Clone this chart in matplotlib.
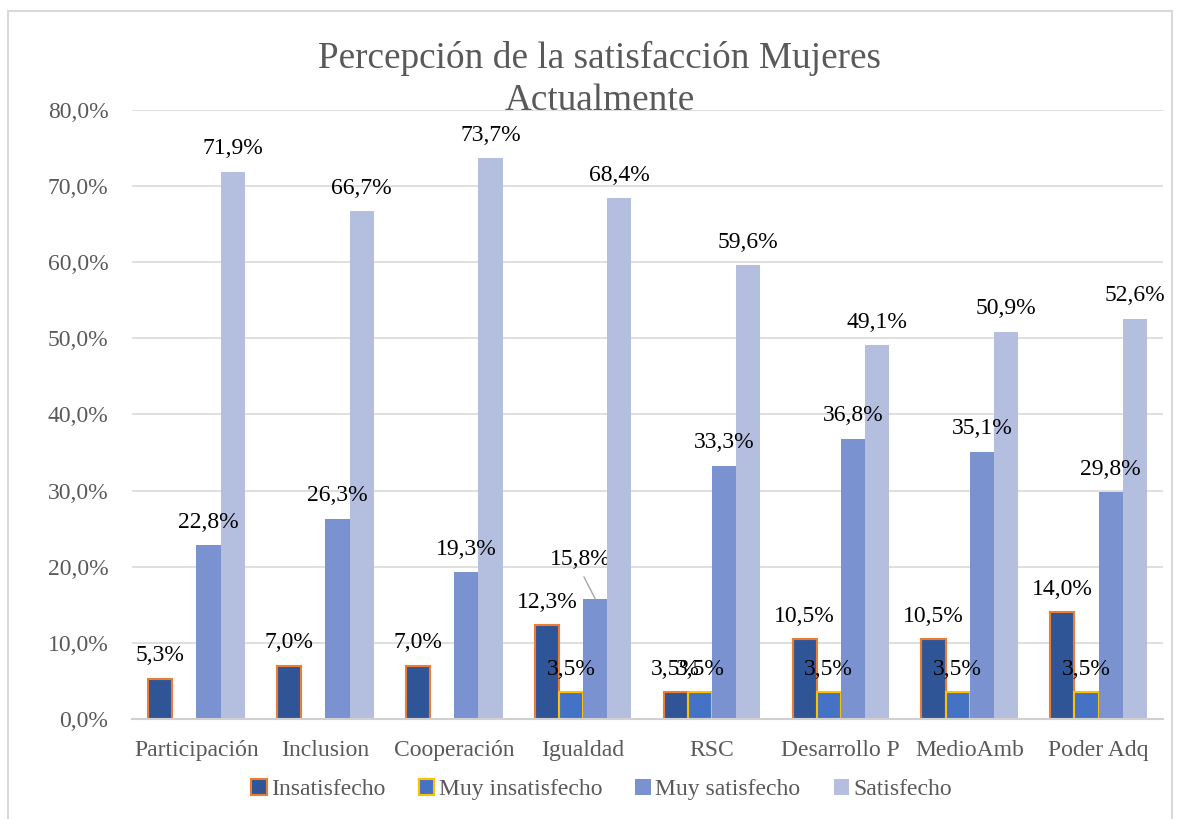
import matplotlib
matplotlib.use("Agg")
import matplotlib.pyplot as plt
from matplotlib.patches import Rectangle
import numpy as np

plt.rcParams["font.family"] = ["Liberation Serif", "DejaVu Serif"]

categories = ["Participación", "Inclusion", "Cooperación", "Igualdad",
              "RSC", "Desarrollo P", "MedioAmb", "Poder Adq"]
series_names = ["Insatisfecho", "Muy insatisfecho", "Muy satisfecho", "Satisfecho"]
insatisfecho = [5.3, 7.0, 7.0, 12.3, 3.5, 10.5, 10.5, 14.0]
muy_insatisfecho = [None, None, None, 3.5, 3.5, 3.5, 3.5, 3.5]
muy_satisfecho = [22.8, 26.3, 19.3, 15.8, 33.3, 36.8, 35.1, 29.8]
satisfecho = [71.9, 66.7, 73.7, 68.4, 59.6, 49.1, 50.9, 52.6]
y_ticks = [0, 10, 20, 30, 40, 50, 60, 70, 80]

fills = ["#2F5597", "#4472C4", "#7A93D0", "#B4BFE0"]
edges = ["#ED7D31", "#FFC000", "#7A93D0", "#B4BFE0"]
gray = "#595959"
fs = 17

fig = plt.figure(figsize=(11.8, 8.19), dpi=100)
ax = fig.add_axes([0.1119, 0.1221, 0.8737, 0.7436])

x = np.arange(len(categories))
width = 0.1875
all_series = [insatisfecho, muy_insatisfecho, muy_satisfecho, satisfecho]
for i, values in enumerate(all_series):
    heights = np.array([np.nan if v is None else v for v in values], dtype=float)
    pos = x + (i - 1.5) * width
    lw = 1.5 if i < 2 else 0
    ax.bar(pos, heights, width, color=fills[i], edgecolor=edges[i],
           linewidth=lw, label=series_names[i], zorder=3)
    for k, (p, h) in enumerate(zip(pos, heights)):
        if np.isnan(h):
            continue
        label = f"{h:.1f}%".replace(".", ",")
        if i == 2 and categories[k] == "Igualdad":
            # label moved up with a leader line, as in the original
            ax.annotate(label, xy=(p, h), xytext=(-10.5, 28),
                        textcoords="offset points",
                        ha="center", va="center", fontsize=fs, color="black",
                        arrowprops=dict(arrowstyle="-", color="#A6A6A6", lw=1,
                                        shrinkA=3, shrinkB=0,
                                        relpos=(0.5, 0.0)))
        else:
            ax.annotate(label, xy=(p, h), xytext=(0, 16.5),
                        textcoords="offset points", ha="center", va="center",
                        fontsize=fs, color="black", zorder=4)

ax.set_xlim(-0.5, len(categories) - 0.5)
ax.set_ylim(0, 80)
ax.set_yticks(y_ticks)
ax.set_yticklabels([f"{t:.1f}%".replace(".", ",") for t in y_ticks])
ax.set_xticks(x)
ax.set_xticklabels(categories)
ax.tick_params(axis="both", length=0, labelsize=fs, colors=gray)
ax.tick_params(axis="y", pad=17)
ax.tick_params(axis="x", pad=15)
ax.grid(axis="y", color="#D9D9D9", linewidth=1.2, zorder=0)
for side in ["top", "right", "left"]:
    ax.spines[side].set_visible(False)
ax.spines["bottom"].set_color("#D0D0D0")
ax.spines["bottom"].set_linewidth(1.5)
ax.spines["bottom"].set_zorder(5)

fig.text(0.508, 0.903, "Percepción de la satisfacción Mujeres\nActualmente",
         ha="center", va="center", fontsize=26.8, color=gray, linespacing=1.27)

fig.legend(loc="center", bbox_to_anchor=(0.51, 0.036), ncol=4, frameon=False,
           fontsize=fs, handlelength=0.65, handleheight=0.65, handletextpad=0.2,
           columnspacing=1.4, labelcolor=gray)

fig.patches.append(Rectangle((8 / 1180, -0.1), 1164 / 1180, 1.1 - 11 / 819,
                             transform=fig.transFigure, fill=False,
                             edgecolor="#D9D9D9", linewidth=1.5))

fig.savefig("out.png", dpi=100)
